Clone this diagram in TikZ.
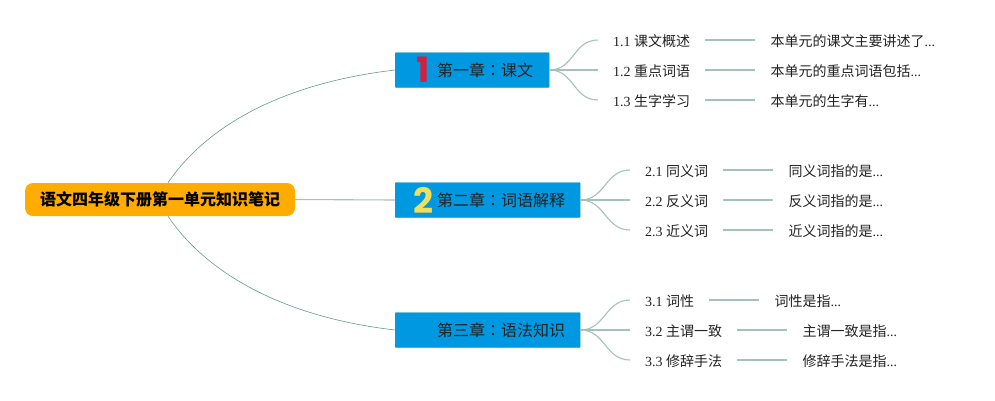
\documentclass[tikz,border=0pt]{standalone}
\usepackage{fontspec}
\setmainfont{Liberation Serif}
\newfontfamily\cjk{Noto Sans CJK SC}
\newfontfamily\cjktc{Noto Sans CJK TC}
\newfontfamily\iconfont{Poppins}
\usetikzlibrary{positioning}
\definecolor{rootorange}{HTML}{FFAB00}
\definecolor{chapblue}{HTML}{0098E0}
\definecolor{chapedge}{HTML}{2B9AB8}
\definecolor{linkdark}{HTML}{5F9B8C}
\definecolor{linklight}{HTML}{A3C2BB}
\definecolor{textdark}{HTML}{222222}
\definecolor{iconred}{HTML}{D81E3C}
\definecolor{iconyellow}{HTML}{F2DE58}

\begin{document}
\begin{tikzpicture}[
      x=1pt, y=-1pt,
      root/.style={
        rectangle,
        fill=rootorange,
        rounded corners=8,
        minimum width=270pt,
        minimum height=33pt,
        inner sep=0,
        font=\cjk\bfseries\fontsize{16}{16}\selectfont,
      },
      chapter/.style={
        rectangle,
        draw=chapedge,
        fill=chapblue,
        rounded corners=0.8,
        minimum height=35pt,
        anchor=west,
        inner sep=0,
      },
      chaptext/.style={
        anchor=west,
        inner sep=0,
        text=textdark,
        font=\cjk\fontsize{16}{16}\selectfont,
      },
      section/.style={
        inner xsep=15pt,
        inner ysep=0,
        anchor=west,
        text=textdark,
        text height=13pt,
        text depth=1pt,
        font=\fontsize{14}{14}\selectfont,
      },
      detail/.style={
        section,
        anchor=center,
      },
      icon/.style={
        inner sep=0,
        font=\iconfont\bfseries\fontsize{35}{35}\selectfont,
      },
      trunk/.style={linkdark, line width=0.6pt},
      twig/.style={linklight, line width=1.1pt},
      ]
      \useasboundingbox (0,0) rectangle (995,400);
      \node[root] (root) at (160,199.5) {语文四年级下册第一单元知识笔记};

      \node[chapter, minimum width=154pt] (c1) at (395,70) {};
      \node[chapter, minimum width=185pt] (c2) at (395,200) {};
      \node[chapter, minimum width=185pt] (c3) at (395,330) {};
      \node[chaptext] (t1) at (437,70) {第一章{\cjktc ：}课文};
      \node[chaptext] (t2) at (437,200) {第二章{\cjktc ：}词语解释};
      \node[chaptext] (t3) at (437,330) {第三章{\cjktc ：}语法知识};
      \node[icon, text=iconred] (i1) at (423,70) {1};
      \node[icon, text=iconyellow] (i2) at (423,200) {2};

      % sections
      \node[section] (s11) at (598,40) {1.1 {\cjk 课文概述}};
      \node[section] (s12) at (598,70) {1.2 {\cjk 重点词语}};
      \node[section] (s13) at (598,100) {1.3 {\cjk 生字学习}};
      \node[section] (s21) at (630,170) {2.1 {\cjk 同义词}};
      \node[section] (s22) at (630,200) {2.2 {\cjk 反义词}};
      \node[section] (s23) at (630,230) {2.3 {\cjk 近义词}};
      \node[section] (s31) at (630,300) {3.1 {\cjk 词性}};
      \node[section] (s32) at (630,330) {3.2 {\cjk 主谓一致}};
      \node[section] (s33) at (630,360) {3.3 {\cjk 修辞手法}};

      \node[detail, right=50pt of s11] (d11) {{\cjk 本单元的课文主要讲述了}...};
      \node[detail, right=50pt of s12] (d12) {{\cjk 本单元的重点词语包括}...};
      \node[detail, right=50pt of s13] (d13) {{\cjk 本单元的生字有}...};
      \node[detail, right=50pt of s21] (d21) {{\cjk 同义词指的是}...};
      \node[detail, right=50pt of s22] (d22) {{\cjk 反义词指的是}...};
      \node[detail, right=50pt of s23] (d23) {{\cjk 近义词指的是}...};
      \node[detail, right=50pt of s31] (d31) {{\cjk 词性是指}...};
      \node[detail, right=50pt of s32] (d32) {{\cjk 主谓一致是指}...};
      \node[detail, right=50pt of s33] (d33) {{\cjk 修辞手法是指}...};

      \draw[trunk] ([xshift=8pt]root.north) .. controls +(35,-52) and +(-120,14) .. (c1.west);
      \draw[trunk] ([xshift=8pt]root.south) .. controls +(35,52) and +(-120,-14) .. (c3.west);
      \draw[twig] (root.east) -- (c2.west);
      \foreach \c/\i in {c1/1, c2/2, c3/3} {
        \draw[twig] (\c.east) .. controls +(25,0) and +(-25,0) .. (s\i1.west);
        \draw[twig] (\c.east) -- (s\i2.west);
        \draw[twig] (\c.east) .. controls +(25,0) and +(-25,0) .. (s\i3.west);
      }
      \foreach \i in {1,2,3} {
        \foreach \j in {1,2,3} {
          \draw[twig, line width=1.2pt] (s\i\j) -- (d\i\j);
        }
      }
\end{tikzpicture}
\end{document}
